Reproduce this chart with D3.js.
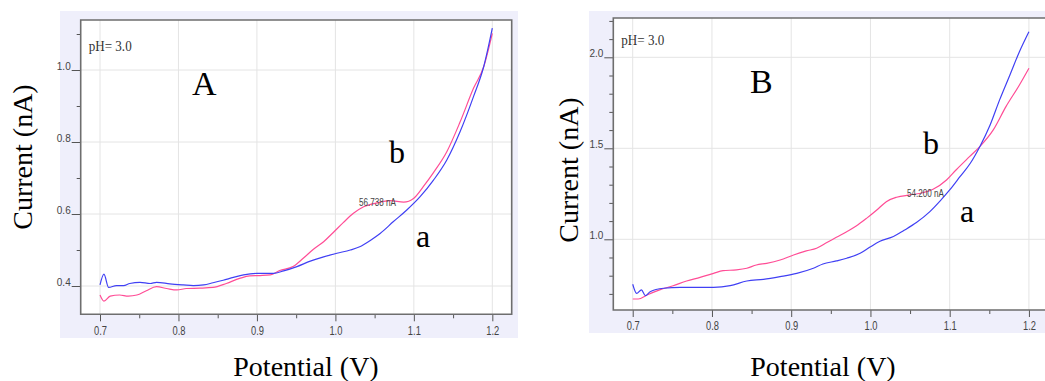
<!DOCTYPE html>
<html>
<head>
<meta charset="utf-8">
<script src="https://cdn.jsdelivr.net/npm/d3@7"></script>
<style>
  html, body { margin: 0; padding: 0; background: #fff; }
  svg { display: block; }
</style>
</head>
<body>
<svg id="chart" width="1045" height="381"></svg>
<script>
// Linear sweep voltammograms at pH 3.0, two electrodes (A and B), curves a and b.
const potentialA_a = [0.700,0.705,0.711,0.721,0.730,0.738,0.751,0.764,0.772,0.789,0.806,0.819,0.832,0.844,0.857,0.870,0.883,0.900,0.921,0.934,0.951,0.968,0.985,1.002,1.019,1.031,1.044,1.057,1.074,1.091,1.108,1.125,1.142,1.159,1.176,1.189,1.200];
const currentA_a   = [0.403,0.433,0.396,0.401,0.401,0.407,0.410,0.407,0.410,0.406,0.403,0.401,0.403,0.409,0.416,0.424,0.431,0.435,0.435,0.442,0.454,0.469,0.481,0.491,0.500,0.509,0.526,0.546,0.579,0.611,0.648,0.694,0.750,0.829,0.926,1.009,1.116];
const potentialA_b = [0.700,0.705,0.713,0.725,0.736,0.747,0.759,0.772,0.785,0.798,0.810,0.827,0.844,0.861,0.878,0.891,0.904,0.917,0.929,0.946,0.959,0.972,0.985,0.997,1.010,1.023,1.036,1.053,1.070,1.087,1.100,1.112,1.125,1.142,1.159,1.176,1.189,1.200];
const currentA_b   = [0.375,0.358,0.372,0.375,0.372,0.375,0.387,0.398,0.393,0.389,0.393,0.394,0.396,0.407,0.421,0.428,0.429,0.431,0.443,0.454,0.477,0.502,0.523,0.548,0.576,0.602,0.620,0.631,0.637,0.633,0.644,0.676,0.715,0.773,0.856,0.949,1.009,1.102];

const potentialB_a = [0.700,0.705,0.711,0.716,0.722,0.739,0.760,0.781,0.802,0.823,0.844,0.865,0.886,0.907,0.928,0.940,0.957,0.970,0.987,0.999,1.012,1.029,1.042,1.058,1.075,1.088,1.100,1.113,1.126,1.138,1.151,1.163,1.176,1.188,1.200];
const currentB_a   = [0.753,0.703,0.722,0.690,0.712,0.731,0.736,0.736,0.736,0.745,0.771,0.780,0.795,0.813,0.841,0.864,0.881,0.896,0.923,0.956,0.989,1.015,1.048,1.092,1.152,1.211,1.271,1.344,1.418,1.509,1.628,1.766,1.903,2.031,2.141];
const potentialB_b = [0.700,0.707,0.718,0.734,0.751,0.768,0.785,0.802,0.814,0.831,0.844,0.856,0.869,0.886,0.903,0.919,0.932,0.945,0.957,0.970,0.982,0.995,1.008,1.020,1.033,1.050,1.066,1.079,1.096,1.108,1.125,1.138,1.155,1.171,1.188,1.200];
const currentB_b   = [0.672,0.672,0.694,0.722,0.745,0.771,0.791,0.813,0.828,0.832,0.841,0.859,0.868,0.886,0.914,0.936,0.951,0.982,1.011,1.042,1.073,1.115,1.161,1.207,1.231,1.244,1.256,1.275,1.326,1.381,1.454,1.509,1.601,1.729,1.848,1.940];

const xTickValues = [0.7, 0.8, 0.9, 1.0, 1.1, 1.2];
const xMinorValues = [0.75, 0.85, 0.95, 1.05, 1.15];
const yTickA = [0.4, 0.6, 0.8, 1.0];
const yMinorA = [0.5, 0.7, 0.9, 1.1];
const yTickB = [1.0, 1.5, 2.0];
const yMinorB = [0.7, 0.8, 0.9, 1.1, 1.2, 1.3, 1.4, 1.6, 1.7, 1.8, 1.9, 2.1, 2.2];

const peakLabelA = { v: 1.030, i: 0.630, text: "56.738 nA" };
const peakLabelB = { v: 1.046, i: 1.250, text: "54.200 nA" };

const COLOR_A = "#4040f4";
const COLOR_B = "#ff4d96";

const svg = d3.select("#chart");

function drawPanel(cfg) {
  const g = svg.append("g");
  // panel backdrop
  g.append("rect").attr("x", cfg.bg[0]).attr("y", cfg.bg[1])
    .attr("width", cfg.bg[2]).attr("height", cfg.bg[3]).attr("fill", "#efeffb");
  g.append("rect").attr("x", cfg.left).attr("y", cfg.top)
    .attr("width", cfg.right - cfg.left).attr("height", cfg.bottom - cfg.top).attr("fill", "#fff");

  const x = d3.scaleLinear().domain(cfg.xDomain).range([cfg.left, cfg.right]);
  const y = d3.scaleLinear().domain(cfg.yDomain).range([cfg.bottom, cfg.top]);

  // grid
  g.append("g").selectAll("line").data(cfg.xTicks).join("line")
    .attr("x1", d => x(d)).attr("x2", d => x(d)).attr("y1", cfg.top).attr("y2", cfg.bottom)
    .attr("stroke", "#e4e4e4").attr("stroke-width", 1);
  g.append("g").selectAll("line").data(cfg.yTicks).join("line")
    .attr("x1", cfg.left).attr("x2", cfg.right).attr("y1", d => y(d)).attr("y2", d => y(d))
    .attr("stroke", "#e4e4e4").attr("stroke-width", 1);

  // x axis: major ticks with labels, minor ticks
  const xAxis = g.append("g").attr("transform", `translate(0,${cfg.bottom})`)
    .call(d3.axisBottom(x).tickValues(cfg.xTicks).tickFormat(d3.format(".1f")).tickSize(7).tickPadding(3));
  g.append("g").attr("transform", `translate(0,${cfg.bottom})`)
    .call(d3.axisBottom(x).tickValues(xMinorValues).tickFormat("").tickSize(4));
  // y axis
  const yAxis = g.append("g").attr("transform", `translate(${cfg.left},0)`)
    .call(d3.axisLeft(y).tickValues(cfg.yTicks).tickFormat(d3.format(".1f")).tickSize(9).tickPadding(1));
  g.append("g").attr("transform", `translate(${cfg.left},0)`)
    .call(d3.axisLeft(y).tickValues(cfg.yMinor).tickFormat("").tickSize(4));

  g.selectAll(".domain").remove();
  g.selectAll(".tick line").attr("stroke", "#555");
  xAxis.selectAll("text").attr("font-family", "Liberation Sans, Arial, sans-serif")
    .attr("font-size", 11).attr("fill", "#444").attr("transform", "scale(0.85,1.15)")
    .attr("x", 0).attr("dy", "0.71em");
  yAxis.selectAll("text").attr("font-family", "Liberation Sans, Arial, sans-serif")
    .attr("font-size", 10).attr("fill", "#444").attr("dy", "-0.05em").attr("text-anchor", "end");

  // curves
  const line = d3.line().x(d => x(d[0])).y(d => y(d[1])).curve(d3.curveMonotoneX);
  const clipId = "clip" + cfg.name;
  g.append("clipPath").attr("id", clipId).append("rect")
    .attr("x", cfg.left).attr("y", cfg.top).attr("width", cfg.right - cfg.left).attr("height", cfg.bottom - cfg.top);
  const curves = g.append("g").attr("clip-path", `url(#${clipId})`);
  curves.append("path").datum(d3.zip(cfg.bV, cfg.bI)).attr("d", line)
    .attr("fill", "none").attr("stroke", COLOR_B).attr("stroke-width", 1.2);
  curves.append("path").datum(d3.zip(cfg.aV, cfg.aI)).attr("d", line)
    .attr("fill", "none").attr("stroke", COLOR_A).attr("stroke-width", 1.2);

  // frame
  g.append("path")
    .attr("d", cfg.openRight
      ? `M${cfg.right},${cfg.top}H${cfg.left}V${cfg.bottom}H${cfg.right}`
      : `M${cfg.left},${cfg.top}H${cfg.right}V${cfg.bottom}H${cfg.left}Z`)
    .attr("fill", "none").attr("stroke", "#6e6e6e").attr("stroke-width", 1.6);

  // annotations
  g.append("text").attr("x", cfg.left + 8).attr("y", cfg.top + cfg.phDy)
    .attr("font-family", "Liberation Serif, Times New Roman, serif").attr("font-size", 15)
    .attr("textLength", 43).attr("lengthAdjust", "spacingAndGlyphs").attr("fill", "#333").text("pH= 3.0");
  g.append("text").attr("x", x(cfg.peak.v)).attr("y", y(cfg.peak.i) + 3)
    .attr("font-family", "Liberation Sans, Arial, sans-serif").attr("font-size", 10)
    .attr("textLength", 37).attr("lengthAdjust", "spacingAndGlyphs").attr("fill", "#444").text(cfg.peak.text);

  const serif = "Liberation Serif, Times New Roman, serif";
  g.append("text").attr("x", cfg.letter[0]).attr("y", cfg.letter[1])
    .attr("font-family", serif).attr("font-size", 34).attr("fill", "#000").text(cfg.name);
  g.append("text").attr("x", cfg.bPos[0]).attr("y", cfg.bPos[1])
    .attr("font-family", serif).attr("font-size", 32).attr("fill", "#000").text("b");
  g.append("text").attr("x", cfg.aPos[0]).attr("y", cfg.aPos[1])
    .attr("font-family", serif).attr("font-size", 32).attr("fill", "#000").text("a");

  // axis titles
  svg.append("text").attr("transform", `translate(${cfg.yTitle[0]},${cfg.yTitle[1]}) rotate(-90)`)
    .attr("text-anchor", "middle").attr("font-family", serif).attr("font-size", 28)
    .attr("fill", "#000").text("Current (nA)");
  svg.append("text").attr("x", cfg.xTitle[0]).attr("y", cfg.xTitle[1])
    .attr("text-anchor", "middle").attr("font-family", serif).attr("font-size", 28)
    .attr("fill", "#000").text("Potential (V)");
}

drawPanel({
  name: "A",
  bg: [60, 11, 458, 327],
  left: 80.7, right: 511.7, top: 20, bottom: 314.3,
  xDomain: [0.6754, 1.2247], yDomain: [0.3214, 1.1389],
  xTicks: xTickValues, yTicks: yTickA, yMinor: yMinorA,
  aV: potentialA_a, aI: currentA_a, bV: potentialA_b, bI: currentA_b,
  peak: peakLabelA, phDy: 31,
  letter: [192, 95], bPos: [389, 163], aPos: [416, 247],
  yTitle: [32, 157], xTitle: [306, 376],
  openRight: false
});

drawPanel({
  name: "B",
  bg: [589, 11, 460, 322],
  left: 613.3, right: 1047, top: 18, bottom: 310,
  xDomain: [0.6755, 1.2228], yDomain: [0.6115, 2.216],
  xTicks: xTickValues, yTicks: yTickB, yMinor: yMinorB,
  aV: potentialB_a, aI: currentB_a, bV: potentialB_b, bI: currentB_b,
  peak: peakLabelB, phDy: 27,
  letter: [750, 93], bPos: [923, 154], aPos: [960, 222],
  yTitle: [578, 170], xTitle: [823, 376],
  openRight: true
});
</script>
</body>
</html>
